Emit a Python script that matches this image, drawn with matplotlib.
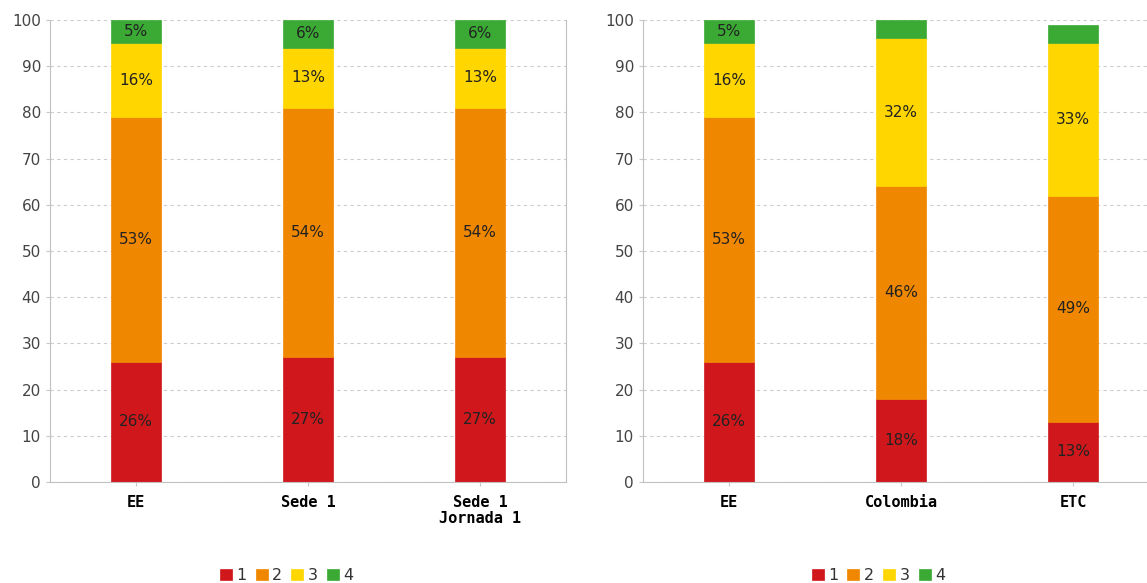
import matplotlib.pyplot as plt

# data (percent)
left_cats = ["EE", "Sede 1", "Sede 1\nJornada 1"]
left_n1 = [26, 27, 27]
left_n2 = [53, 54, 54]
left_n3 = [16, 13, 13]
left_n4 = [5, 6, 6]

right_cats = ["EE", "Colombia", "ETC"]
right_n1 = [26, 18, 13]
right_n2 = [53, 46, 49]
right_n3 = [16, 32, 33]
right_n4 = [5, 4, 4]

levels = ["1", "2", "3", "4"]
colors = ["#d0181c", "#f08700", "#ffd600", "#3baa35"]


def draw(ax, cats, series):
    x = list(range(len(cats)))
    bottom = [0] * len(cats)
    handles = []
    for vals, col, lab in zip(series, colors, levels):
        bars = ax.bar(x, vals, 0.295, bottom=bottom, color=col, edgecolor=col,
                      linewidth=0.5, label=lab, zorder=2)
        handles.append(bars)
        for xi, v, b in zip(x, vals, bottom):
            if v >= 5:
                ax.text(xi, b + v / 2, f"{v}%", ha="center", va="center",
                        fontsize=11, color="#222222", zorder=3)
        bottom = [b + v for b, v in zip(bottom, vals)]
    ax.set_xlim(-0.5, len(cats) - 0.5)
    ax.set_ylim(0, 100)
    ax.set_yticks(range(0, 101, 10))
    ax.set_xticks(x)
    ax.set_xticklabels(cats, family="DejaVu Sans Mono", fontweight="bold",
                       fontsize=11, linespacing=1.1)
    ax.tick_params(axis="y", labelsize=11, labelcolor="#444444", length=3,
                   color="#c8c8c8")
    ax.tick_params(axis="x", length=3, color="#c8c8c8", pad=6)
    ax.grid(axis="y", linestyle=(0, (3, 3)), color="#cccccc", linewidth=0.8,
            zorder=0)
    for s in ax.spines.values():
        s.set_color("#c0c0c0")
    ax.spines["top"].set_visible(False)
    return handles


fig = plt.figure(figsize=(11.47, 5.83), dpi=100)
ax1 = fig.add_axes([0.0436, 0.1732, 0.4499, 0.7925])
ax2 = fig.add_axes([0.5606, 0.1732, 0.4499, 0.7925])

h1 = draw(ax1, left_cats, [left_n1, left_n2, left_n3, left_n4])
h2 = draw(ax2, right_cats, [right_n1, right_n2, right_n3, right_n4])

for h, cx in [(h1, 0.25), (h2, 0.766)]:
    fig.legend(h, levels, loc="center", bbox_to_anchor=(cx, 0.013), ncol=4,
               frameon=False, handlelength=0.75, handleheight=0.75,
               handletextpad=0.3, columnspacing=0.55, fontsize=11.5,
               labelcolor="#333333")

fig.savefig("out.png", dpi=100)
